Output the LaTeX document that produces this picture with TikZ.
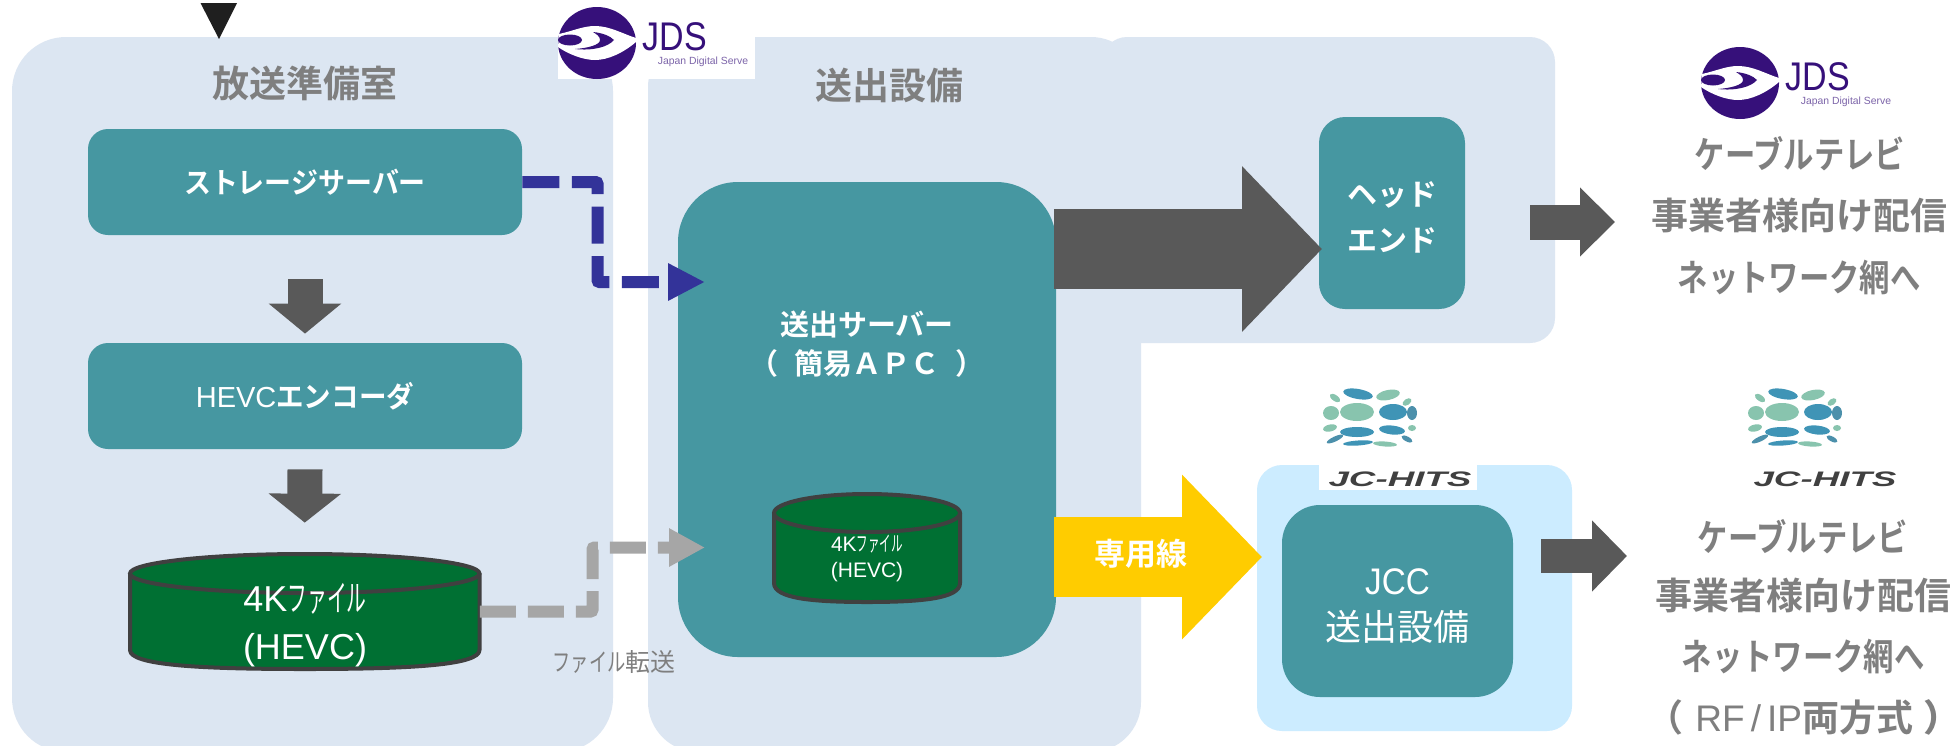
\documentclass[tikz,border=0pt]{standalone}
\usepackage{fontspec}
\usepackage{graphicx}
\usetikzlibrary{arrows.meta}
\setmainfont{Liberation Sans}
\newfontfamily\jp{Noto Sans CJK JP}[BoldFont=* Bold]
\newfontfamily\jphalt{Noto Sans CJK JP Bold}[RawFeature=+halt]
\definecolor{panelc}{HTML}{DCE6F2}
\definecolor{jccpanel}{HTML}{CCECFF}
\definecolor{tealc}{HTML}{4697A1}
\definecolor{darkc}{HTML}{595959}
\definecolor{grayt}{HTML}{7F7F7F}
\definecolor{bluec}{HTML}{333399}
\definecolor{grayd}{HTML}{A6A6A6}
\definecolor{cylg}{HTML}{007033}
\definecolor{cyll}{HTML}{404040}
\definecolor{yelc}{HTML}{FFCC00}
\definecolor{jdsp}{HTML}{36107A}
\definecolor{jcb}{HTML}{3F94B6}
\definecolor{jcg}{HTML}{88C4AE}
\newcommand{\nar}[2]{\scalebox{#1}[1]{#2}}
\newcommand{\fsz}[2]{\fontsize{#1}{#2}\selectfont}
\tikzset{
 tealbox/.style={fill=tealc,text=white,inner sep=0pt,align=center},
 head/.style={text=grayt,inner sep=0pt,font=\jp\bfseries\fsz{18.5}{22}},
 side/.style={text=grayt,inner sep=0pt,font=\jp\bfseries\fsz{18.5}{22}},
 whitebold/.style={text=white,inner sep=0pt,align=center},
 dashblue/.style={draw=bluec,line width=6pt,dash pattern=on 18.5pt off 6.2pt,rounded corners=1pt,-{Triangle[length=18.5pt,width=17.5pt]}},
 dashgray/.style={draw=grayd,line width=6pt,dash pattern=on 18pt off 6pt,rounded corners=1pt,-{Triangle[length=18pt,width=18pt]}},
 jdsbig/.style={inner sep=0pt,text=jdsp,font=\fsz{20}{22}},
 jdssmall/.style={inner sep=0pt,text=jdsp!65,font=\fsz{5.2}{6}},
 hits/.style={inner sep=0pt,text=black!75,font=\bfseries\itshape\fsz{10.5}{12}},
}
\newcommand{\jdslogo}[2]{%
 \begin{scope}[shift={(#1,#2)}]
  \fill[white] (0,0) rectangle (197,72);
  \fill[jdsp] (39,36) ellipse [x radius=39,y radius=36];
  \fill[white] (1,27) .. controls (15,24) and (25,19) .. (37,19) .. controls (52,19) and (65,27) .. (78,31)
     -- (78,35) .. controls (65,46) and (50,53) .. (37,53) .. controls (25,53) and (10,47) .. (0,40) -- cycle;
  \fill[jdsp] (35,25) .. controls (45,26) and (52,29) .. (56,33) .. controls (50,40) and (35,44) .. (17,42)
     .. controls (30,41) and (42,38) .. (42,33) .. controls (42,29) and (38,27) .. (35,25) -- cycle;
  \fill[jdsp] (12,33) ellipse [x radius=12,y radius=5.5];
 \end{scope}}
\newcommand{\jclogo}[2]{%
 \begin{scope}[shift={(#1,#2)}]
  \fill[jcb,rotate around={-10:(43,14)}] (43,14) ellipse [x radius=15,y radius=5];
  \fill[jcg,rotate around={12:(73,15)}] (73,15) ellipse [x radius=12,y radius=5];
  \fill[jcg,rotate around={-35:(20,18)}] (20,18) ellipse [x radius=6,y radius=3];
  \fill[jcg,rotate around={35:(92,22)}] (92,22) ellipse [x radius=5,y radius=3];
  \fill[jcg] (16,33) ellipse [x radius=8,y radius=7];
  \fill[jcg] (42,32) ellipse [x radius=17,y radius=9];
  \fill[jcb] (78,32) ellipse [x radius=14,y radius=8];
  \fill[jcb!80!gray] (97,33) ellipse [x radius=5,y radius=7];
  \fill[jcg,rotate around={12:(15,48)}] (15,48) ellipse [x radius=7,y radius=3.5];
  \fill[jcb] (42,52) ellipse [x radius=17,y radius=5];
  \fill[jcb,rotate around={-6:(77,50)}] (77,50) ellipse [x radius=13,y radius=4.5];
  \fill[jcg] (97,48) ellipse [x radius=4,y radius=3];
  \fill[jcb!80!gray,rotate around={25:(20,59)}] (20,59) ellipse [x radius=9,y radius=2.5];
  \fill[jcb,rotate around={4:(43,63)}] (43,63) ellipse [x radius=15,y radius=2.5];
  \fill[jcg,rotate around={-4:(70,64)}] (70,64) ellipse [x radius=12,y radius=2.5];
  \fill[jcb!80!gray,rotate around={-28:(92,59)}] (92,59) ellipse [x radius=6,y radius=2.5];
 \end{scope}}
\newcommand{\cyl}[6]{%
 \path[fill=cylg,draw=cyll,line width=2pt,line join=round]
  (#1,#4) -- (#1,#5) .. controls (#1,{#6-(#6-#5)*0.2}) and ({#1+(#3-#1)*0.2},#6) .. ({(#1+#3)/2},#6)
  .. controls ({#3-(#3-#1)*0.2},#6) and (#3,{#6-(#6-#5)*0.2}) .. (#3,#5) -- (#3,#4);
 \path[fill=cylg,draw=cyll,line width=2pt] ({(#1+#3)/2},#4) ellipse [x radius={(#3-#1)/2},y radius={#2}];
}
\begin{document}
\begin{tikzpicture}[x=0.5pt,y=-0.5pt]
\useasboundingbox (0,0) rectangle (1952,745);
\clip (0,0) rectangle (1952,745);
\fill[white] (0,0) rectangle (1952,745);
% panels
\fill[panelc,rounded corners=27pt] (12,37) rectangle (613,752);
\fill[panelc,rounded corners=25pt] (648,37) rectangle (1141,752);
\fill[panelc,rounded corners=12.5pt] (1102,37) rectangle (1555,343);
\fill[jccpanel,rounded corners=12.5pt] (1257,465) rectangle (1572,731);
% top marker
\fill[black!88] (200.5,3) -- (237,3) -- (219,39) -- cycle;
% logos
\jdslogo{558}{7}
\jdslogo{1701}{47}
\fill[white] (1319,383) rectangle (1477,490);
\jclogo{1315}{380}
\jclogo{1740}{380}
\node[jdsbig] (jdsA) at (675,37) {\nar{.85}{JDS}};
\node[jdssmall] (jdsAs) at (703,62) {Japan Digital Serve};
\node[jdsbig] (jdsB) at (1818,77) {\nar{.85}{JDS}};
\node[jdssmall] (jdsBs) at (1846,102) {Japan Digital Serve};
\node[hits] (hitsA) at (1400,479) {\nar{1.75}{JC-HITS}};
\node[hits] (hitsB) at (1825,479) {\nar{1.75}{JC-HITS}};
% headings
\node[head] (roomlabel) at (305,83) {放送準備室};
\node[head] (equiplabel) at (889,85) {送出設備};
% boxes
\node[tealbox,rounded corners=10pt,minimum width=217pt,minimum height=53pt,font=\jp\bfseries\fsz{14.5}{18}] (storage) at (305,182) {\nar{.93}{ストレージサーバー}};
\node[tealbox,rounded corners=10pt,minimum width=217pt,minimum height=53pt,font=\fsz{14.5}{18}] (hevc) at (305,396) {HEVC{\jp\bfseries\nar{.95}{エンコーダ}}};
\node[tealbox,rounded corners=30pt,minimum width=189pt,minimum height=237.5pt] (server) at (867,419.5) {};
\node[whitebold,font=\jp\bfseries\fsz{14.5}{19.5}] (servertext) at (867,344) {送出サーバー\\（\hspace{8pt}簡易ＡＰＣ\hspace{8pt}）};
\node[tealbox,rounded corners=13pt,minimum width=73pt,minimum height=96pt,font=\jp\bfseries\fsz{15}{23}] (headend) at (1392,213) {\parbox{60pt}{\vspace*{4pt}\centering ヘッド\\エンド}};
\node[tealbox,rounded corners=19pt,minimum width=115.5pt,minimum height=96pt,font=\fsz{18.5}{23}] (jccbox) at (1397.5,601) {\parbox{100pt}{\vspace*{5.5pt}\centering\nar{.9}{JCC}\\{\jp\fsz{18}{23}送出設備}}};
% cylinders
\cyl{130}{19.5}{479.5}{573.5}{650}{669}
\node[inner sep=0pt,minimum width=174.75pt,minimum height=57.5pt] (cylA) at (304.75,611.5) {};
\node[whitebold,font=\fsz{18}{24}] (cylAtext) at (305,625) {4K{\jp\nar{.55}{ファイル}}\\(HEVC)};
\cyl{774}{19}{960}{513}{583}{602}
\node[inner sep=0pt,minimum width=93pt,minimum height=54pt] (cylB) at (867,548) {};
\node[whitebold,font=\fsz{10.5}{13}] (cylBtext) at (867,558) {4K{\jp\nar{.55}{ファイル}}\\(HEVC)};
% block arrows
\draw[darkc,line width=17.5pt,-{Triangle[length=15pt,width=35.5pt]}] ([yshift=-22pt]storage.south) -- ([yshift=4.5pt]hevc.north);
\draw[darkc,line width=17.5pt,-{Triangle[length=14.5pt,width=35.5pt]}] ([yshift=-10pt]hevc.south) -- ([yshift=15.5pt]cylA.north);
\coordinate (bigS) at (1054,249);
\coordinate (bigE) at (1322,249);
\draw[darkc,line width=40pt,-{Triangle[length=40pt,width=80.5pt]}] (bigS) -- (bigE);
\coordinate (yelS) at (1054,557);
\coordinate (yelE) at (1262,557);
\draw[yelc,line width=40pt,-{Triangle[length=40pt,width=80pt]}] (yelS) -- (yelE);
\node[whitebold,font=\jp\bfseries\fsz{15.5}{18}] (senyo) at (1141,554) {専用線};
\coordinate (outAS) at (1530,222);
\coordinate (outAE) at (1615,222);
\draw[darkc,line width=17.5pt,-{Triangle[length=17.5pt,width=33.5pt]}] (outAS) -- (outAE);
\coordinate (outBS) at (1541,556);
\coordinate (outBE) at (1627,556);
\draw[darkc,line width=17pt,-{Triangle[length=17.5pt,width=34.5pt]}] (outBS) -- (outBE);
% dashed connectors
\coordinate (blueA) at (597.5,182);
\coordinate (blueB) at (597.5,282);
\coordinate (blueE) at (705,282);
\draw[dashblue] (storage.east) -- (blueA) -- (blueB) -- (blueE);
\coordinate (grayA) at (592.5,611.5);
\coordinate (grayB) at (592.5,547.5);
\coordinate (grayE) at (705,547.5);
\draw[dashgray] (cylA.east) -- (grayA) -- (grayB) -- (grayE);
\node[inner sep=0pt,text=grayt,font=\jp\fsz{12.5}{15}] (xfer) at (614,662) {\nar{.73}{ファイル}転送};
% right text
\node[side] (ta1) at (1800,154) {\nar{.82}{ケーブルテレビ}};
\node[side] (ta2) at (1799,215) {事業者様向け配信};
\node[side] (ta3) at (1799,278) {\nar{.82}{ネットワーク網へ}};
\node[side] (tb1) at (1803,537) {\nar{.82}{ケーブルテレビ}};
\node[side] (tb2) at (1803,595) {事業者様向け配信};
\node[side] (tb3) at (1803,656) {\nar{.82}{ネットワーク網へ}};
\node[side] (tb4) at (1794,717) {（\hspace{6pt}{\rmfamily\mdseries RF\hspace{3pt}/\hspace{3pt}IP}両方式\hspace{5pt}{\jphalt ）}};
\end{tikzpicture}
\end{document}
